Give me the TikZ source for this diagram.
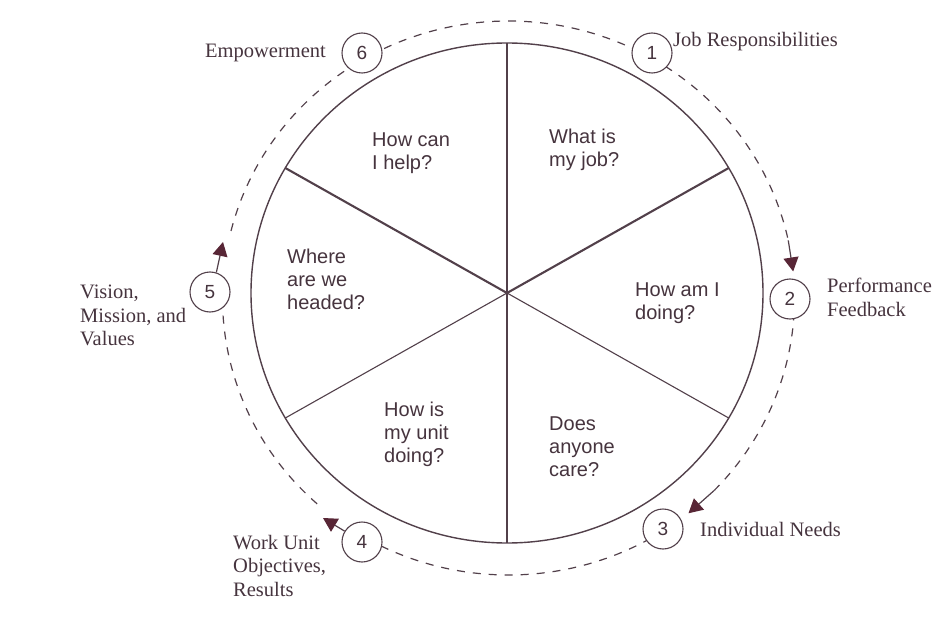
\documentclass[tikz,border=0pt]{standalone}
\usepackage{fontspec}
\setmainfont{Liberation Serif}
\setsansfont{Liberation Sans}
\usetikzlibrary{arrows.meta,calc}
\definecolor{ink}{RGB}{82,64,74}
\definecolor{txt}{RGB}{70,52,62}
\definecolor{head}{RGB}{88,38,54}
\newcommand\orbarc[2]{\draw[orbit] ($(D)+(#1:286pt and 277pt)$) arc[start angle=#1,end angle=#2,x radius=286pt,y radius=277pt];}
\begin{document}
\begin{tikzpicture}[x=1pt,y=1pt,
  every node/.style={inner sep=0pt},
  wheel/.style={draw=ink,line width=1.4pt},
  spoke/.style={draw=ink,line width=1.1pt},
  thickspoke/.style={draw=ink,line width=2.1pt},
  orbit/.style={draw=ink,line width=1.2pt,dash pattern=on 8pt off 8pt},
  numc/.style={circle,draw=ink,line width=1.1pt,fill=white,minimum size=40pt,font=\sffamily\fontsize{19}{19}\selectfont,text=txt},
  q/.style={align=left,anchor=north west,font=\sffamily\fontsize{20}{23}\selectfont,text=txt},
  lab/.style={align=left,font=\rmfamily\fontsize{20.5}{23.5}\selectfont,text=txt},
  arr/.style={draw=ink,line width=1.2pt,-{Triangle[length=14pt,width=15pt,color=head]}}
]
\useasboundingbox[fill=white] (0,0) rectangle (934,641);
\coordinate (C) at (507,348);
\coordinate (D) at (508.5,343);
% wheel
\draw[wheel] (C) ellipse[x radius=256pt,y radius=250pt];
\coordinate (s90) at ($(C)+(90:256pt and 250pt)$);
\coordinate (s270) at ($(C)+(270:256pt and 250pt)$);
\coordinate (s30) at ($(C)+(30:256pt and 250pt)$);
\coordinate (s150) at ($(C)+(150:256pt and 250pt)$);
\coordinate (s210) at ($(C)+(210:256pt and 250pt)$);
\coordinate (s330) at ($(C)+(330:256pt and 250pt)$);
\draw[spoke] (s90) -- (s270);
\draw[thickspoke] (C) -- (s30);
\draw[thickspoke] (C) -- (s150);
\draw[spoke] (C) -- (s210);
\draw[spoke] (C) -- (s330);
% orbit
\orbarc{119}{61}
\orbarc{60}{12}
\orbarc{-3}{-44}
\orbarc{-57}{-120}
\orbarc{-132}{-180}
\orbarc{166}{121}
% numbered circles
\node[numc] (n1) at (652,588) {1};
\node[numc] (n2) at (790,342) {2};
\node[numc] (n3) at (663,112) {3};
\node[numc] (n4) at (362,99) {4};
\node[numc] (n5) at (210,349) {5};
\node[numc] (n6) at (362,588) {6};
% arrows
\coordinate (a2) at ($(D)+(12:286pt and 277pt)$);
\coordinate (tip2) at ($(D)+(5.5:286pt and 277pt)$);
\coordinate (a3) at ($(D)+(-44:286pt and 277pt)$);
\coordinate (tip3) at ($(D)+(-51:286pt and 277pt)$);
\coordinate (tip4) at (323,123);
\coordinate (tip5) at (223,399);
\draw[arr] (a2) -- (tip2);
\draw[arr] (a3) -- (tip3);
\draw[arr] (n4.148) -- (tip4);
\draw[arr] (n5.72) -- (tip5);
% labels
\node[lab,anchor=base west] (l6) at (205,583) {Empowerment};
\node[lab,anchor=base west] (l1) at (673,594) {Job Responsibilities};
\node[lab,anchor=north west] (l2) at (827,362.8) {Performance\\Feedback};
\node[lab,anchor=base west] (l3) at (700,105) {Individual Needs};
\node[lab,anchor=north west] (l4) at (233,106.2) {Work Unit\\Objectives,\\Results};
\node[lab,anchor=north west] (l5) at (80,356.2) {Vision,\\Mission, and\\Values};
% questions
\node[q] (qa) at (549,512) {What is\\my job?};
\node[q] (qb) at (372,508.8) {How can\\I help?};
\node[q] (qc) at (287,392) {Where\\are we\\headed?};
\node[q] (qd) at (635,358.8) {How am I\\doing?};
\node[q] (qe) at (384,239.5) {How is\\my unit\\doing?};
\node[q] (qf) at (549,224.5) {Does\\anyone\\care?};
\end{tikzpicture}
\end{document}
